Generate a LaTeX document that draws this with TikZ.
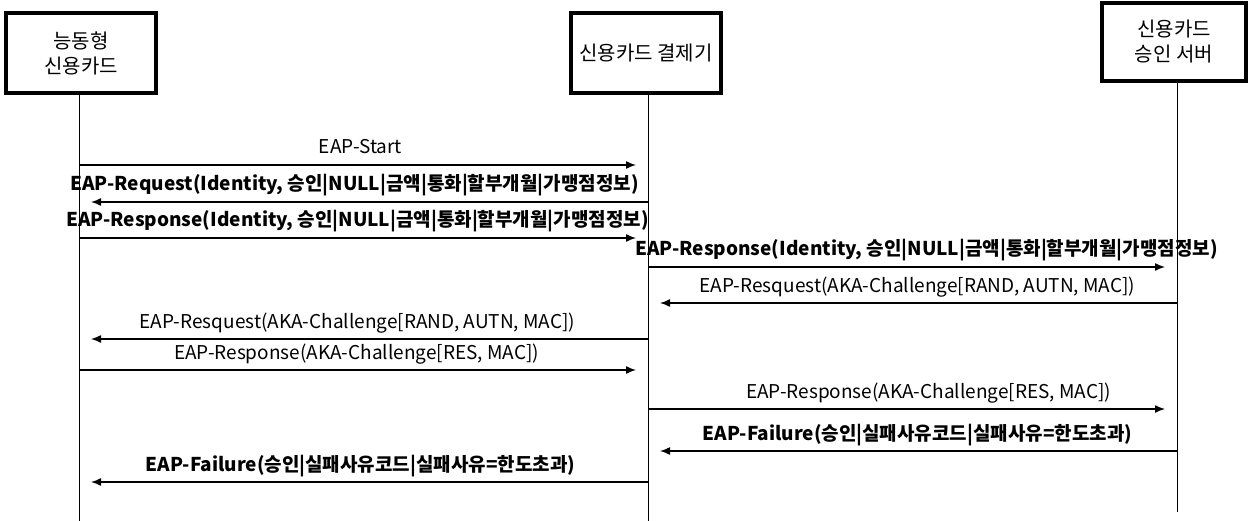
\documentclass[tikz,border=0pt]{standalone}
\usepackage{fontspec}
\setmainfont{Noto Sans CJK KR}
\usetikzlibrary{arrows.meta}

\tikzset{
	actor/.style={draw, line width=4pt, minimum width=150pt, minimum height=80pt, align=center, font=\fontsize{20}{25}\selectfont},
	lifeline/.style={line width=1pt},
	msg/.style={line width=1.4pt, -{Latex[length=10pt,width=8pt]}, shorten >=12pt},
	lbl/.style={midway, yshift=14pt, text height=0.8em, text depth=0.2em, inner sep=0pt, font=\fontsize{19}{23}\selectfont},
	blbl/.style={lbl, font=\fontsize{19}{23}\selectfont\bfseries}
}

\begin{document}
\begin{tikzpicture}[x=1pt, y=-1pt]
	\useasboundingbox (0,0) rectangle (1252,521);
	\node[actor] (card) at (81,53) {능동형\\신용카드};
	\node[actor] (term) at (646,53) {신용카드 결제기};
	\node[actor, minimum width=144pt, minimum height=78pt] (server) at (1174,42) {신용카드\\승인 서버};
	\coordinate (cardEnd) at (79,521);
	\coordinate (termEnd) at (648,521);
	\coordinate (serverEnd) at (1177,512);
	\draw[lifeline] (card.south -| cardEnd) -- (cardEnd);
	\draw[lifeline] (term.south -| termEnd) -- (termEnd);
	\draw[lifeline] (server.south -| serverEnd) -- (serverEnd);
	\draw[msg] (cardEnd |- 0,165) -- (termEnd |- 0,165) node[lbl, xshift=-3pt]{EAP-Start};
	\draw[msg] (termEnd |- 0,202) -- (cardEnd |- 0,202) node[blbl, xshift=-9pt]{EAP-Request(Identity, 승인|NULL|금액|통화|할부개월|가맹점정보)};
	\draw[msg] (cardEnd |- 0,238) -- (termEnd |- 0,238) node[blbl, xshift=-6pt]{EAP-Response(Identity, 승인|NULL|금액|통화|할부개월|가맹점정보)};
	\draw[msg] (termEnd |- 0,267) -- (serverEnd |- 0,267) node[blbl, xshift=14pt]{EAP-Response(Identity, 승인|NULL|금액|통화|할부개월|가맹점정보)};
	\draw[msg] (serverEnd |- 0,303) -- (termEnd |- 0,303) node[lbl, xshift=5pt]{EAP-Resquest(AKA-Challenge[RAND, AUTN, MAC])};
	\draw[msg] (termEnd |- 0,339) -- (cardEnd |- 0,339) node[lbl, xshift=-6pt]{EAP-Resquest(AKA-Challenge[RAND, AUTN, MAC])};
	\draw[msg] (cardEnd |- 0,370) -- (termEnd |- 0,370) node[lbl, xshift=-7pt]{EAP-Response(AKA-Challenge[RES, MAC])};
	\draw[msg] (termEnd |- 0,409) -- (serverEnd |- 0,409) node[lbl, xshift=16pt]{EAP-Response(AKA-Challenge[RES, MAC])};
	\draw[msg] (serverEnd |- 0,451) -- (termEnd |- 0,451) node[blbl, xshift=5pt]{EAP-Failure(승인|실패사유코드|실패사유=한도초과)};
	\draw[msg] (termEnd |- 0,482) -- (cardEnd |- 0,482) node[blbl, xshift=-3pt]{EAP-Failure(승인|실패사유코드|실패사유=한도초과)};
\end{tikzpicture}
\end{document}
